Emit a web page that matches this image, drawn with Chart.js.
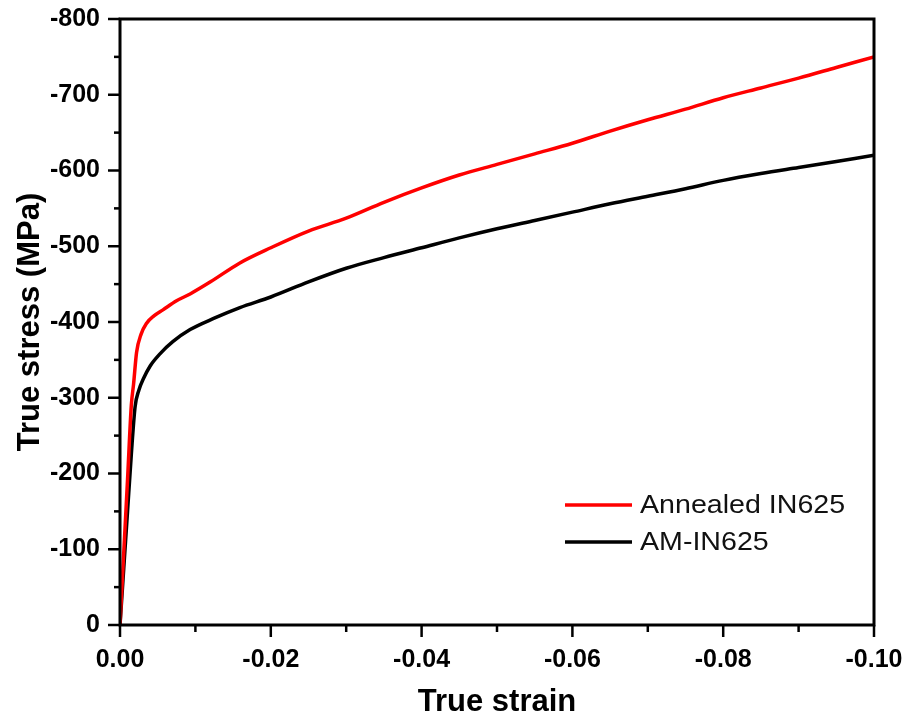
<!DOCTYPE html>
<html>
<head>
<meta charset="utf-8">
<script src="https://cdn.jsdelivr.net/npm/chart.js@4.4.1/dist/chart.umd.min.js"></script>
<style>
  html, body { margin: 0; padding: 0; background: #ffffff; }
  #wrap { width: 907px; height: 723px; }
</style>
</head>
<body>
<div id="wrap"><canvas id="c" width="907" height="723"></canvas></div>
<script>
// values are magnitudes; the axes print them with a minus sign
const annealedStrain = [0, 0.0005, 0.001, 0.0015, 0.0018, 0.0022, 0.0028, 0.0035, 0.0045, 0.0057, 0.0075, 0.0093, 0.012, 0.0159, 0.02, 0.025, 0.03, 0.035, 0.04, 0.045, 0.05, 0.055, 0.06, 0.065, 0.07, 0.075, 0.08, 0.085, 0.09, 0.095, 0.1];
const annealedStress = [0, 96, 192, 290, 318, 360, 384, 398, 408, 416, 428, 437, 453, 478, 498, 520, 537, 558, 577, 594, 608, 622, 636, 652, 667, 681, 696, 709, 722, 736, 750];

const amStrain = [0, 0.0005, 0.001, 0.0015, 0.002, 0.0025, 0.0031, 0.004, 0.0053, 0.007, 0.0093, 0.0125, 0.0159, 0.02, 0.025, 0.03, 0.035, 0.04, 0.045, 0.05, 0.055, 0.06, 0.065, 0.07, 0.075, 0.08, 0.085, 0.09, 0.095, 0.1];
const amStress = [0, 75, 150, 225, 288, 310, 325, 342, 358, 374, 390, 405, 419, 433, 453, 471, 485, 498, 511, 523, 534, 545, 556, 566, 576, 587, 596, 604, 612, 620];

const seriesNames = ['Annealed IN625', 'AM-IN625'];
const seriesColours = ['#ff0000', '#000000'];

const xTicks = [0, 0.02, 0.04, 0.06, 0.08, 0.1];
const yTicks = [0, 100, 200, 300, 400, 500, 600, 700, 800];

const tickFont = {family: 'Liberation Sans, Arial, sans-serif', size: 25, weight: 'bold'};
const titleFont = {family: 'Liberation Sans, Arial, sans-serif', size: 31, weight: 'bold'};

function pairs(xs, ys){
	let out = [];
	for(let i = 0; i < xs.length; i++) out.push({x: xs[i], y: ys[i]});
	return out;
}

// box, outward major/minor ticks and the legend
const furniture = {
	id: 'furniture',
	afterDraw(chart){
		const ctx = chart.ctx;
		const a = chart.chartArea;
		const xs = chart.scales.x, ys = chart.scales.y;
		let v, p, len;
		ctx.save();
		ctx.strokeStyle = '#000000';
		ctx.lineWidth = 3;
		ctx.strokeRect(a.left, a.top, a.right - a.left, a.bottom - a.top);
		ctx.lineWidth = 2.5;
		for(v = 0; v <= 800; v += 50){
			p = ys.getPixelForValue(v);
			len = (v % 100 === 0) ? 12 : 6;
			ctx.beginPath(); ctx.moveTo(a.left - len, p); ctx.lineTo(a.left, p); ctx.stroke();
		}
		for(v = 0; v <= 10; v++){
			p = xs.getPixelForValue(v / 100);
			len = (v % 2 === 0) ? 12 : 7;
			ctx.beginPath(); ctx.moveTo(p, a.bottom); ctx.lineTo(p, a.bottom + len); ctx.stroke();
		}
		// legend (text slightly widened like the original export)
		ctx.font = '26px Liberation Sans, Arial, sans-serif';
		ctx.textBaseline = 'middle';
		ctx.textAlign = 'left';
		ctx.lineWidth = 3.5;
		for(let s = 0; s < seriesNames.length; s++){
			const ly = 505 + s * 37;
			ctx.strokeStyle = seriesColours[s];
			ctx.beginPath(); ctx.moveTo(565, ly); ctx.lineTo(632, ly); ctx.stroke();
			ctx.fillStyle = '#111111';
			ctx.save();
			ctx.translate(640, ly + 1);
			ctx.scale(1.1, 1);
			ctx.fillText(seriesNames[s], 0, 0);
			ctx.restore();
		}
		ctx.restore();
	}
};

new Chart(document.getElementById('c'), {
	type: 'line',
	data: {
		datasets: [
			{label: seriesNames[0], data: pairs(annealedStrain, annealedStress), borderColor: seriesColours[0], borderWidth: 3.5, pointRadius: 0, cubicInterpolationMode: 'monotone', fill: false},
			{label: seriesNames[1], data: pairs(amStrain, amStress), borderColor: seriesColours[1], borderWidth: 3.5, pointRadius: 0, cubicInterpolationMode: 'monotone', fill: false}
		]
	},
	options: {
		responsive: false,
		animation: false,
		layout: {padding: {left: 0, right: 33, top: 19, bottom: 0}},
		plugins: {legend: {display: false}, tooltip: {enabled: false}},
		scales: {
			x: {
				type: 'linear', min: 0, max: 0.1,
				afterBuildTicks: function(scale){ scale.ticks = xTicks.map(v => ({value: v})); },
				afterFit: function(scale){ scale.height = 98; scale.paddingLeft = 0; scale.paddingRight = 0; },
				grid: {display: false},
				border: {display: false},
				ticks: {
					font: tickFont, color: '#000000', padding: 12, maxRotation: 0, autoSkip: false,
					callback: function(v){ return v === 0 ? '0.00' : '-' + v.toFixed(2); }
				},
				title: {display: true, text: 'True strain', font: titleFont, color: '#000000', padding: {top: 0, bottom: 2}}
			},
			y: {
				type: 'linear', min: 0, max: 800,
				afterBuildTicks: function(scale){ scale.ticks = yTicks.map(v => ({value: v})); },
				afterFit: function(scale){ scale.width = 120; scale.paddingTop = 0; scale.paddingBottom = 0; },
				grid: {display: false},
				border: {display: false},
				ticks: {
					font: tickFont, color: '#000000', padding: 12, autoSkip: false,
					callback: function(v){ return v === 0 ? '0' : '-' + v; }
				},
				title: {display: true, text: 'True stress (MPa)', font: titleFont, color: '#000000', padding: {top: 12, bottom: 0}}
			}
		}
	},
	plugins: [furniture]
});
</script>
</body>
</html>
